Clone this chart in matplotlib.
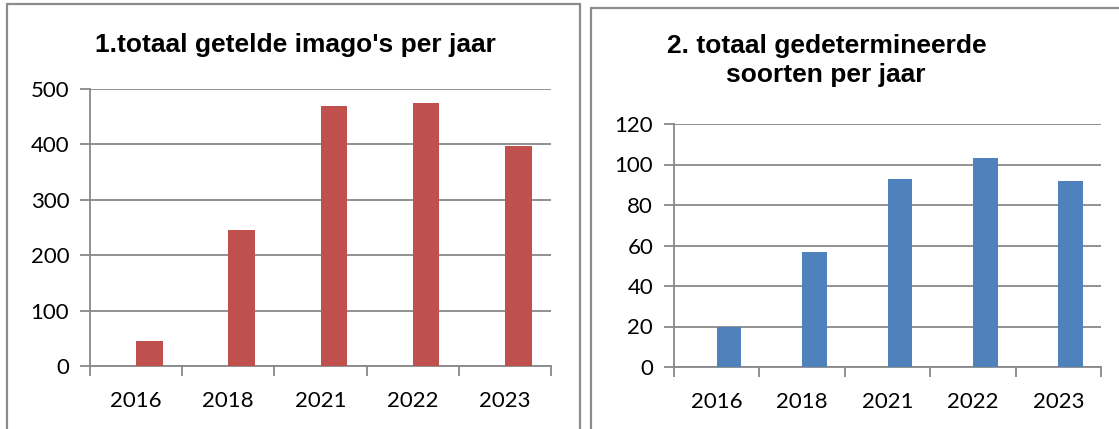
import matplotlib
matplotlib.use("Agg")
import matplotlib.pyplot as plt
from matplotlib.patches import Rectangle

years = ["2016", "2018", "2021", "2022", "2023"]
imagos = [45, 245, 470, 475, 398]
soorten = [20, 57, 93, 103, 92]

title1 = "1.totaal getelde imago's per jaar"
title2_line1 = "2. totaal gedetermineerde"
title2_line2 = "soorten per jaar"

W, H = 1119, 429
fig = plt.figure(figsize=(W / 100, H / 100), dpi=100)
fig.patch.set_facecolor("white")

gray = "#888888"
tick_font = "Lato"
title_font = "Liberation Sans"


def px_axes(x0, x1, ytop, ybot):
    return fig.add_axes([x0 / W, 1 - ybot / H, (x1 - x0) / W, (ybot - ytop) / H])


def style(ax, ymax, ystep, values, color):
    xs = list(range(len(years)))
    ax.bar(xs, values, width=0.29, align="edge", color=color, zorder=3)
    ax.set_xlim(-0.5, len(years) - 0.5)
    ax.set_ylim(0, ymax)
    ax.set_yticks(list(range(0, ymax + 1, ystep)))
    ax.set_xticks(xs)
    ax.set_xticklabels(years)
    ax.set_xticks([x - 0.5 for x in range(len(years) + 1)], minor=True)
    ax.tick_params(axis="x", which="major", length=0, pad=18, labelsize=16)
    ax.tick_params(axis="x", which="minor", length=7, width=1.3, color=gray)
    ax.tick_params(axis="y", length=7, width=1.3, color=gray, pad=8, labelsize=16)
    for lab in ax.get_xticklabels() + ax.get_yticklabels():
        lab.set_fontfamily(tick_font)
    ax.grid(axis="y", color=gray, linewidth=1.3, zorder=0)
    for s in ["top", "right"]:
        ax.spines[s].set_visible(False)
    for s in ["left", "bottom"]:
        ax.spines[s].set_color(gray)
        ax.spines[s].set_linewidth(1.3)
    ax.set_facecolor("white")


ax1 = px_axes(90, 551, 89, 366)
style(ax1, 500, 100, imagos, "#C0504D")
ax2 = px_axes(674, 1101, 124, 367)
style(ax2, 120, 20, soorten, "#4F81BD")

tkw = dict(ha="center", va="center", fontsize=19, fontweight="bold", fontfamily=title_font)
fig.text(295 / W, 1 - 45 / H, title1, **tkw)
fig.text(827 / W, 1 - 46 / H, title2_line1, **tkw)
fig.text(826 / W, 1 - 75 / H, title2_line2, **tkw)

# panel borders
fig.patches.append(Rectangle((7 / W, -0.05), (580 - 7) / W, 1.05 - 4 / H,
                             transform=fig.transFigure, fill=False,
                             edgecolor="#8c8c8c", linewidth=1.6))
fig.patches.append(Rectangle((591 / W, -0.05), 0.6, 1.05 - 8 / H,
                             transform=fig.transFigure, fill=False,
                             edgecolor="#8c8c8c", linewidth=1.6))

fig.savefig("out.png", dpi=100, facecolor="white")
